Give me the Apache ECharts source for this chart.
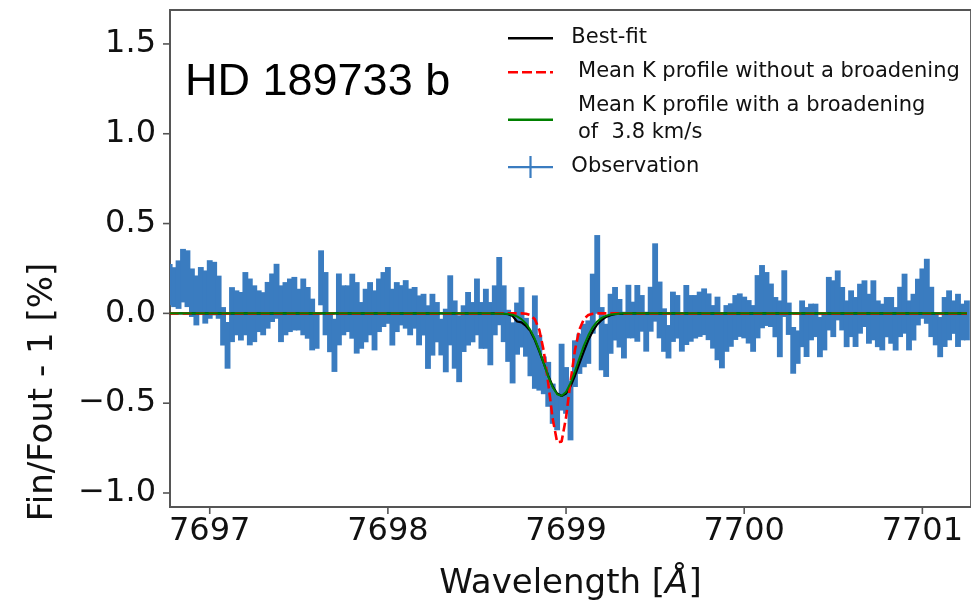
<!DOCTYPE html>
<html><head><meta charset="utf-8">
<script src="https://cdn.jsdelivr.net/npm/echarts@6/dist/echarts.min.js"></script>
<style>html,body{margin:0;padding:0;background:#fff}#c{width:971px;height:608px}</style>
</head><body><div id="c"></div>
<script>
// ---------- data ----------
const xTicks = [7697, 7698, 7699, 7700, 7701];
const yTicks = [-1.0, -0.5, 0.0, 0.5, 1.0, 1.5];

const obsX = [
7696.775,7696.8,7696.825,7696.85,7696.875,7696.9,7696.925,7696.95,7696.975,7697,
7697.025,7697.05,7697.075,7697.1,7697.125,7697.15,7697.175,7697.2,7697.225,7697.25,
7697.275,7697.3,7697.325,7697.35,7697.375,7697.4,7697.425,7697.45,7697.475,7697.5,
7697.525,7697.55,7697.575,7697.6,7697.625,7697.65,7697.675,7697.7,7697.725,7697.75,
7697.775,7697.8,7697.825,7697.85,7697.875,7697.9,7697.925,7697.95,7697.975,7698,
7698.025,7698.05,7698.075,7698.1,7698.125,7698.15,7698.175,7698.2,7698.225,7698.25,
7698.275,7698.3,7698.325,7698.35,7698.375,7698.4,7698.425,7698.45,7698.475,7698.5,
7698.525,7698.55,7698.575,7698.6,7698.625,7698.65,7698.675,7698.7,7698.725,7698.75,
7698.775,7698.8,7698.825,7698.85,7698.875,7698.9,7698.925,7698.95,7698.975,7699,
7699.025,7699.05,7699.075,7699.1,7699.125,7699.15,7699.175,7699.2,7699.225,7699.25,
7699.275,7699.3,7699.325,7699.35,7699.375,7699.4,7699.425,7699.45,7699.475,7699.5,
7699.525,7699.55,7699.575,7699.6,7699.625,7699.65,7699.675,7699.7,7699.725,7699.75,
7699.775,7699.8,7699.825,7699.85,7699.875,7699.9,7699.925,7699.95,7699.975,7700,
7700.025,7700.05,7700.075,7700.1,7700.125,7700.15,7700.175,7700.2,7700.225,7700.25,
7700.275,7700.3,7700.325,7700.35,7700.375,7700.4,7700.425,7700.45,7700.475,7700.5,
7700.525,7700.55,7700.575,7700.6,7700.625,7700.65,7700.675,7700.7,7700.725,7700.75,
7700.775,7700.8,7700.825,7700.85,7700.875,7700.9,7700.925,7700.95,7700.975,7701,
7701.025,7701.05,7701.075,7701.1,7701.125,7701.15,7701.175,7701.2,7701.225,7701.25
];
const obsY = [
0.16,0.146,0.16,0.21,0.193,0.115,0.072,0.128,0.091,0.133,
0.138,0.09,-0.072,-0.178,-0.007,0.003,-0.016,0.054,0.008,-0.002,
0.012,-0.002,0.045,0.087,0.123,-0.002,0.026,0.045,0.054,0.021,
0.036,0.003,-0.062,-0.095,0.198,0.054,-0.109,-0.178,0.022,0.017,
0.026,0.04,-0.025,-0.067,-0.012,0.026,-0.039,0.045,0.077,0.1,
-0.021,0.035,0.045,0.05,0.008,0.031,-0.039,-0.007,-0.132,-0.063,
-0.049,-0.132,-0.151,0.017,-0.118,-0.197,-0.085,-0.03,-0.049,0.036,
-0.067,-0.03,-0.113,0.017,0.124,-0.002,-0.125,-0.22,-0.085,-0.022,
-0.133,-0.225,-0.16,-0.275,-0.345,-0.395,-0.503,-0.549,-0.355,-0.429,
-0.54,-0.28,-0.225,-0.179,-0.16,0.054,0.217,-0.141,-0.206,-0.058,
-0.002,-0.055,-0.121,0.01,-0.037,0.0,0.0,-0.102,0.023,0.172,
0.019,-0.093,-0.158,-0.019,-0.019,-0.111,-0.009,-0.028,-0.019,-0.005,
0.009,-0.019,-0.075,-0.084,-0.153,-0.084,-0.065,-0.023,-0.01,-0.023,
-0.047,-0.084,0.037,0.093,0.08,0.045,-0.021,-0.086,0.11,-0.03,
-0.206,-0.188,-0.058,-0.104,-0.048,-0.039,-0.132,-0.104,0.054,0.026,
0.1,0.026,-0.058,-0.002,-0.048,0.026,0.054,-0.03,0.017,-0.058,
-0.076,-0.021,-0.039,-0.086,0.008,0.054,-0.067,-0.021,0.063,0.11,
0.123,0.008,-0.09,-0.132,-0.048,-0.011,-0.021,-0.039,-0.048,-0.039
];
const obsErr = [
0.115,0.111,0.135,0.149,0.158,0.135,0.139,0.13,0.148,0.163,
0.149,0.12,0.107,0.13,0.153,0.125,0.135,0.176,0.186,0.158,
0.116,0.12,0.13,0.135,0.153,0.158,0.148,0.149,0.149,0.116,
0.158,0.144,0.144,0.102,0.153,0.176,0.107,0.148,0.2,0.139,
0.13,0.181,0.199,0.13,0.149,0.148,0.167,0.149,0.153,0.158,
0.158,0.139,0.112,0.135,0.13,0.116,0.139,0.116,0.177,0.172,
0.112,0.102,0.177,0.195,0.19,0.186,0.13,0.149,0.112,0.158,
0.13,0.167,0.176,0.139,0.19,0.158,0.145,0.17,0.145,0.168,
0.108,0.125,0.26,0.155,0.105,0.125,0.112,0.102,0.186,0.13,
0.167,0.13,0.112,0.121,0.121,0.167,0.219,0.176,0.148,0.167,
0.149,0.135,0.13,0.149,0.102,0.158,0.102,0.111,0.125,0.218,
0.158,0.121,0.093,0.14,0.121,0.102,0.167,0.13,0.121,0.126,
0.13,0.13,0.121,0.177,0.153,0.13,0.121,0.125,0.121,0.116,
0.121,0.13,0.176,0.176,0.15,0.121,0.112,0.158,0.13,0.09,
0.13,0.093,0.13,0.139,0.102,0.093,0.112,0.102,0.149,0.158,
0.139,0.121,0.13,0.13,0.139,0.139,0.13,0.139,0.167,0.13,
0.13,0.112,0.13,0.121,0.14,0.167,0.139,0.13,0.13,0.14,
0.181,0.14,0.088,0.112,0.139,0.139,0.093,0.148,0.102,0.111
];

const modelX = [7696.775,
7698.55,7698.575,7698.6,7698.625,7698.65,7698.675,7698.7,7698.725,7698.75,7698.775,
7698.8,7698.825,7698.85,7698.875,7698.9,7698.925,7698.95,7698.975,7699,7699.025,
7699.05,7699.075,7699.1,7699.125,7699.15,7699.175,7699.2,7699.225,7699.25,7699.275,
7699.3,7699.325,7699.35,7699.375,7699.4,
7701.25];
const bestFit = [0,
0,0,0,-0.001,-0.002,-0.005,-0.015,-0.045,-0.05,-0.07,
-0.099,-0.149,-0.211,-0.279,-0.347,-0.406,-0.446,-0.46,-0.446,-0.406,
-0.347,-0.279,-0.211,-0.149,-0.099,-0.062,-0.037,-0.02,-0.01,-0.005,
-0.002,-0.001,0,0,0,
0];
const noBroadening = [0,
0,0,0,0,0,0,0,0,0,-0.002,
-0.01,-0.033,-0.092,-0.21,-0.39,-0.587,-0.717,-0.714,-0.579,-0.381,
-0.204,-0.089,-0.032,-0.009,-0.002,0,0,0,0,0,
0,0,0,0,0,
0];
const withBroadening = [0,
0,0,-0.001,-0.001,-0.002,-0.004,-0.008,-0.017,-0.032,-0.056,
-0.093,-0.143,-0.207,-0.279,-0.351,-0.411,-0.45,-0.459,-0.438,-0.389,
-0.323,-0.25,-0.18,-0.122,-0.076,-0.045,-0.025,-0.013,-0.006,-0.003,
-0.001,0,0,0,0,
0];

const seriesNames = ['Best-fit', ' Mean K profile without a broadening',
  ' Mean K profile with a broadening\n of  3.8 km/s', 'Observation'];

// ---------- chart ----------
const FONT = 'DejaVu Sans';
const AX = '#555';
const BLUE = '#3a7cc0';
const X_MIN = 7696.777, X_MAX = 7701.273, Y_MIN = -1.078, Y_MAX = 1.689;
const chart = echarts.init(document.getElementById('c'), null, {renderer: 'canvas'});
const halfStep = (obsX[1] - obsX[0]) / 2;
const near = (v, list) => list.some(t => Math.abs(t - v) < 1e-6);

const pair = (xs, ys) => xs.map((x, i) => [x, ys[i]]);
const tickData = xTicks.map(v => [v, Y_MIN, 0]).concat(yTicks.map(v => [X_MIN, v, 1]));

const option = {
  animation: false,
  backgroundColor: '#fff',
  grid: {left: 170, top: 10, right: -5, bottom: 101, show: true,
         borderColor: AX, borderWidth: 1.8, backgroundColor: 'transparent'},
  xAxis: {
    type: 'value', min: X_MIN, max: X_MAX, splitNumber: 5,
    splitLine: {show: false},
    axisLine: {onZero: false, lineStyle: {color: AX, width: 1.8}},
    axisTick: {show: false},
    axisLabel: {showMinLabel: false, showMaxLabel: false, fontSize: 32, fontFamily: FONT, color: '#111', margin: 9,
                formatter: v => near(v, xTicks) ? String(Math.round(v)) : ''},
    name: 'Wavelength [{i|Å}]', nameLocation: 'middle', nameGap: 60,
    nameTextStyle: {fontSize: 34, fontFamily: FONT, color: '#111',
      rich: {i: {fontSize: 34, fontFamily: FONT, fontStyle: 'italic', color: '#111'}}}
  },
  yAxis: {
    type: 'value', min: Y_MIN, max: Y_MAX, splitNumber: 5,
    splitLine: {show: false},
    axisLine: {onZero: false, lineStyle: {color: AX, width: 1.8}},
    axisTick: {show: false},
    axisLabel: {showMinLabel: false, showMaxLabel: false, fontSize: 32, fontFamily: FONT, color: '#111', margin: 14,
                formatter: v => near(v, yTicks) ? (v < -1e-9 ? '\u2212' : '') + Math.abs(v).toFixed(1) : ''}
  },
  legend: {
    orient: 'vertical', left: 508, top: 24.5, padding: 0,
    itemWidth: 45, itemHeight: 22, itemGap: 7, selectedMode: false,
    textStyle: {fontSize: 21, fontFamily: FONT, color: '#111', lineHeight: 27},
    formatter: n => '  ' + n.split('\n').join('\n  '),
    data: [
      {name: seriesNames[0], icon: 'path://M0,0M45,22M0,10h45v2.4h-45z', itemStyle: {color: '#000'}},
      {name: seriesNames[1], icon: 'path://M0,0M45,22M0,10h10v2.4h-10zM14,10h10v2.4h-10zM28,10h10v2.4h-10zM42,10h3v2.4h-3z', itemStyle: {color: '#ff0000'}},
      {name: seriesNames[2], icon: 'path://M0,0M45,22M0,10h45v2.4h-45z', itemStyle: {color: '#008000'}},
      {name: seriesNames[3], icon: 'path://M0,0M45,22M0,10h45v2.2h-45zM21.4,0h2.2v22h-2.2z', itemStyle: {color: BLUE}}
    ]
  },
  graphic: [
    {type: 'text', left: 185, top: 60, z: 10,
     style: {text: 'HD 189733 b', font: '45px "Liberation Sans", Arial, sans-serif', fill: '#000'}},
    {type: 'text', x: 43, y: 392, rotation: Math.PI / 2, z: 10,
     style: {text: 'Fin/Fout - 1 [%]', font: '34px "DejaVu Sans"', fill: '#111',
             align: 'center', verticalAlign: 'middle'}}
  ],
  series: [
    {
      name: seriesNames[3], type: 'custom', clip: true, z: 1,
      itemStyle: {color: BLUE},
      encode: {x: 0, y: 1},
      data: obsX.map((x, i) => [x, obsY[i], obsErr[i]]),
      renderItem: (params, api) => {
        const x = api.value(0), y = api.value(1), e = api.value(2);
        const p1 = api.coord([x - halfStep, y + e]);
        const p2 = api.coord([x + halfStep, y - e]);
        return {type: 'rect',
          shape: {x: p1[0] - 0.7, y: p1[1], width: p2[0] - p1[0] + 1.4, height: p2[1] - p1[1]},
          style: {fill: BLUE}};
      }
    },
    {name: seriesNames[0], type: 'line', z: 2, symbol: 'none', color: '#000',
     lineStyle: {color: '#000', width: 2.2}, data: pair(modelX, bestFit)},
    {name: seriesNames[1], type: 'line', z: 3, symbol: 'none', color: '#ff0000',
     lineStyle: {color: '#ff0000', width: 2.6, type: [9, 4]}, data: pair(modelX, noBroadening)},
    {name: seriesNames[2], type: 'line', z: 4, symbol: 'none', color: '#008000',
     lineStyle: {color: '#008000', width: 2}, data: pair(modelX, withBroadening)},
    {
      name: 'axis ticks', type: 'custom', clip: false, z: 5, silent: true,
      encode: {x: 0, y: 1},
      data: tickData,
      renderItem: (params, api) => {
        const p = api.coord([api.value(0), api.value(1)]);
        const vertical = api.value(2) === 0;
        return {type: 'line',
          shape: vertical ? {x1: p[0], y1: p[1], x2: p[0], y2: p[1] + 7}
                          : {x1: p[0] - 7, y1: p[1], x2: p[0], y2: p[1]},
          style: {stroke: AX, lineWidth: 1.6}};
      }
    }
  ]
};
chart.setOption(option);
</script>
</body></html>
